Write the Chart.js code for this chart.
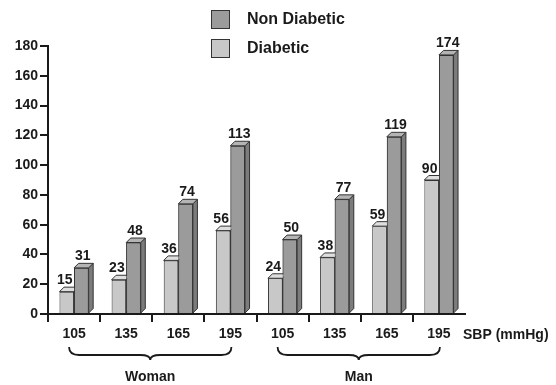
<!DOCTYPE html>
<html>
<head>
<meta charset="utf-8">
<script src="https://cdn.jsdelivr.net/npm/chart.js@4/dist/chart.umd.min.js"></script>
<style>
  html, body { margin: 0; padding: 0; background: #fff; }
  canvas { display: block; }
</style>
</head>
<body>
<canvas id="chart" width="556" height="385"></canvas>
<script>
// SBP categories, grouped by sex
const categories = ['105', '135', '165', '195', '105', '135', '165', '195'];
const groups = ['Woman', 'Man'];
const groupSize = 4;
const axisTitle = 'SBP (mmHg)';

// Series values
const diabetic = [15, 23, 36, 56, 24, 38, 59, 90];
const nonDiabetic = [31, 48, 74, 113, 50, 77, 119, 174];

// Value axis
const yMin = 0;
const yMax = 180;
const yStep = 20;

const FONT = '"Liberation Sans", Arial, sans-serif';
const INK = '#1a1a1a';
const DEPTH = 4.5;

// Face shades for the pseudo-3D bars
const shades = [
  { front: '#c8c8c8', top: '#dedede', side: '#a8a8a8' },
  { front: '#9b9b9b', top: '#b4b4b4', side: '#7c7c7c' }
];
// horizontal nudge of the value labels per series
const labelShift = [-2, 1.5];

function drawFaces(ctx, bar, shade) {
  const { x, y, base, width } = bar.getProps(['x', 'y', 'base', 'width'], true);
  const l = x - width / 2, r = x + width / 2;
  ctx.save();
  ctx.strokeStyle = '#333';
  ctx.lineWidth = 1;
  ctx.lineJoin = 'round';
  // side face
  ctx.beginPath();
  ctx.moveTo(r, base);
  ctx.lineTo(r, y);
  ctx.lineTo(r + DEPTH, y - DEPTH);
  ctx.lineTo(r + DEPTH, base - DEPTH);
  ctx.closePath();
  ctx.fillStyle = shade.side;
  ctx.fill();
  ctx.stroke();
  // top face
  ctx.beginPath();
  ctx.moveTo(l, y);
  ctx.lineTo(l + DEPTH, y - DEPTH);
  ctx.lineTo(r + DEPTH, y - DEPTH);
  ctx.lineTo(r, y);
  ctx.closePath();
  ctx.fillStyle = shade.top;
  ctx.fill();
  ctx.stroke();
  ctx.restore();
}

const bars3d = {
  id: 'bars3d',
  afterDatasetsDraw(chart) {
    const ctx = chart.ctx;
    const m0 = chart.getDatasetMeta(0);
    const m1 = chart.getDatasetMeta(1);
    m0.data.forEach(b => drawFaces(ctx, b, shades[0]));
    // redraw the right-hand bars so they sit in front of the left-hand faces
    m1.data.forEach(b => b.draw(ctx));
    m1.data.forEach(b => drawFaces(ctx, b, shades[1]));
    // value labels
    ctx.save();
    ctx.font = 'bold 14px ' + FONT;
    ctx.fillStyle = INK;
    ctx.textAlign = 'center';
    ctx.textBaseline = 'alphabetic';
    [m0, m1].forEach((meta, di) => {
      const vals = chart.data.datasets[di].data;
      meta.data.forEach((b, i) => {
        const { x, y } = b.getProps(['x', 'y'], true);
        ctx.fillText(String(vals[i]), x + labelShift[di], y - DEPTH - 3);
      });
    });
    ctx.restore();
  }
};

function brace(ctx, x0, x1, yTop) {
  const mid = (x0 + x1) / 2;
  const yb = yTop + 8;
  ctx.beginPath();
  ctx.moveTo(x0, yTop);
  ctx.quadraticCurveTo(x0, yb, x0 + 10, yb);
  ctx.lineTo(mid - 10, yb);
  ctx.quadraticCurveTo(mid, yb, mid, yb + 5);
  ctx.quadraticCurveTo(mid, yb, mid + 10, yb);
  ctx.lineTo(x1 - 10, yb);
  ctx.quadraticCurveTo(x1, yb, x1, yTop);
  ctx.stroke();
}

const decorations = {
  id: 'decorations',
  afterDraw(chart) {
    const ctx = chart.ctx;
    const xs = chart.scales.x;
    ctx.save();
    // legend, listed top to bottom in reverse dataset order
    const ds = chart.data.datasets.slice().reverse();
    ctx.font = 'bold 16px ' + FONT;
    ctx.textBaseline = 'middle';
    ctx.textAlign = 'left';
    ds.forEach((d, i) => {
      const yBox = 10 + i * 29;
      ctx.fillStyle = d.backgroundColor;
      ctx.fillRect(211, yBox, 19, 19);
      ctx.strokeStyle = '#333';
      ctx.lineWidth = 1;
      ctx.strokeRect(211.5, yBox + 0.5, 18, 18);
      ctx.fillStyle = INK;
      ctx.fillText(d.label, 247, yBox + 10);
    });
    // axis title
    ctx.font = 'bold 14px ' + FONT;
    ctx.fillText(axisTitle, 463, 335);
    // group braces and names
    ctx.strokeStyle = INK;
    ctx.lineWidth = 1.8;
    groups.forEach((g, gi) => {
      const c0 = xs.getPixelForValue(gi * groupSize);
      const c1 = xs.getPixelForValue(gi * groupSize + groupSize - 1);
      const x0 = c0 - 5, x1 = c1 + 1;
      brace(ctx, x0, x1, 347);
      ctx.textAlign = 'center';
      ctx.fillStyle = INK;
      ctx.fillText(g, (x0 + x1) / 2, 377);
    });
    ctx.restore();
  }
};

const tickFont = { family: FONT, size: 14, weight: 'bold' };

new Chart(document.getElementById('chart'), {
  type: 'bar',
  data: {
    labels: categories,
    datasets: [
      {
        label: 'Diabetic',
        data: diabetic,
        backgroundColor: shades[0].front,
        borderColor: '#333',
        borderWidth: 1,
        borderSkipped: 'bottom'
      },
      {
        label: 'Non Diabetic',
        data: nonDiabetic,
        backgroundColor: shades[1].front,
        borderColor: '#333',
        borderWidth: 1,
        borderSkipped: 'bottom'
      }
    ]
  },
  options: {
    responsive: false,
    animation: false,
    devicePixelRatio: 1,
    layout: { padding: { left: 0, right: 91, top: 46, bottom: 0 } },
    datasets: { bar: { categoryPercentage: 0.56, barPercentage: 1.0 } },
    plugins: { legend: { display: false }, tooltip: { enabled: false } },
    scales: {
      x: {
        offset: true,
        grid: {
          offset: true,
          drawOnChartArea: false,
          tickLength: 8,
          lineWidth: 2,
          color: ctx => ctx.type === 'tick' ? INK : 'rgba(0,0,0,0)'
        },
        border: { color: INK, width: 2 },
        ticks: { font: tickFont, color: INK, padding: 4, autoSkip: false, maxRotation: 0 },
        afterFit: s => { s.height = 71; }
      },
      y: {
        min: yMin,
        max: yMax,
        grid: { drawOnChartArea: false, tickLength: 8, lineWidth: 2, color: INK },
        border: { color: INK, width: 2 },
        ticks: { stepSize: yStep, font: tickFont, color: INK, padding: 2 },
        afterFit: s => { s.width = 48; }
      }
    }
  },
  plugins: [bars3d, decorations]
});
</script>
</body>
</html>
